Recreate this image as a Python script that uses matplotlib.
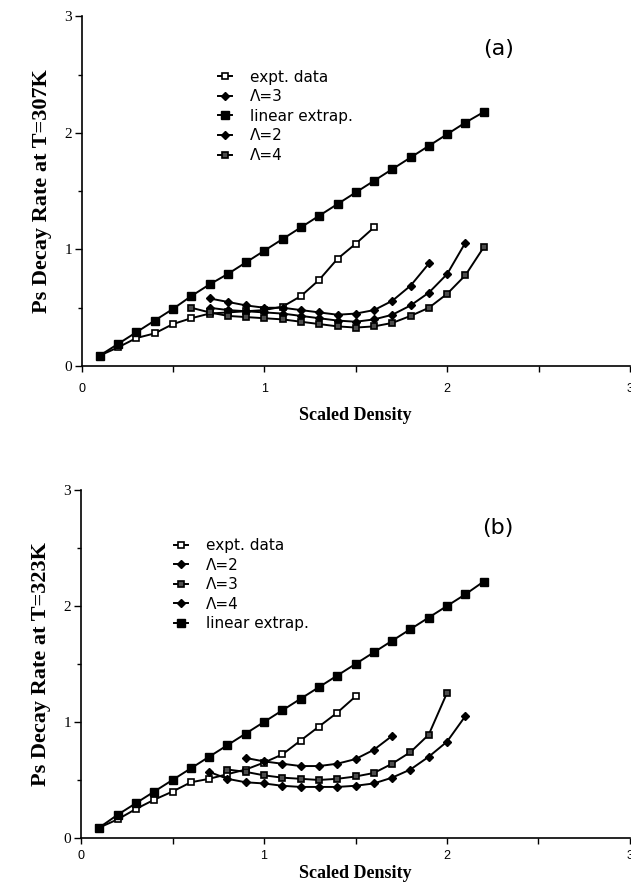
import matplotlib
matplotlib.use('Agg')
import matplotlib.pyplot as plt
from matplotlib.ticker import MultipleLocator

# ---- panel (a): T=307K ----
x_lin_a = [0.1, 0.2, 0.3, 0.4, 0.5, 0.6, 0.7, 0.8, 0.9, 1.0, 1.1,
           1.2, 1.3, 1.4, 1.5, 1.6, 1.7, 1.8, 1.9, 2.0, 2.1, 2.2]
y_lin_a = [0.09, 0.19, 0.29, 0.39, 0.49, 0.60, 0.70, 0.79, 0.89, 0.99, 1.09,
           1.19, 1.29, 1.39, 1.49, 1.59, 1.69, 1.79, 1.89, 1.99, 2.09, 2.18]

x_exp_a = [0.1, 0.2, 0.3, 0.4, 0.5, 0.6, 0.7, 0.8, 0.9, 1.0, 1.1, 1.2, 1.3, 1.4, 1.5, 1.6]
y_exp_a = [0.09, 0.16, 0.24, 0.28, 0.36, 0.41, 0.45, 0.46, 0.47, 0.48, 0.51, 0.60, 0.74, 0.92, 1.05, 1.19]

x_l2_a = [0.7, 0.8, 0.9, 1.0, 1.1, 1.2, 1.3, 1.4, 1.5, 1.6, 1.7, 1.8, 1.9]
y_l2_a = [0.58, 0.55, 0.52, 0.50, 0.50, 0.48, 0.46, 0.44, 0.45, 0.48, 0.56, 0.69, 0.88]

x_l3_a = [0.7, 0.8, 0.9, 1.0, 1.1, 1.2, 1.3, 1.4, 1.5, 1.6, 1.7, 1.8, 1.9, 2.0, 2.1]
y_l3_a = [0.50, 0.48, 0.47, 0.46, 0.45, 0.43, 0.41, 0.39, 0.38, 0.40, 0.44, 0.52, 0.63, 0.79, 1.06]

x_l4_a = [0.6, 0.7, 0.8, 0.9, 1.0, 1.1, 1.2, 1.3, 1.4, 1.5, 1.6, 1.7, 1.8, 1.9, 2.0, 2.1, 2.2]
y_l4_a = [0.50, 0.46, 0.43, 0.42, 0.41, 0.40, 0.38, 0.36, 0.34, 0.33, 0.34, 0.37, 0.43, 0.50, 0.62, 0.78, 1.02]

# ---- panel (b): T=323K ----
x_lin_b = [0.1, 0.2, 0.3, 0.4, 0.5, 0.6, 0.7, 0.8, 0.9, 1.0, 1.1,
           1.2, 1.3, 1.4, 1.5, 1.6, 1.7, 1.8, 1.9, 2.0, 2.1, 2.2]
y_lin_b = [0.09, 0.20, 0.30, 0.40, 0.50, 0.60, 0.70, 0.80, 0.90, 1.00, 1.10,
           1.20, 1.30, 1.40, 1.50, 1.60, 1.70, 1.80, 1.90, 2.00, 2.10, 2.21]

x_exp_b = [0.1, 0.2, 0.3, 0.4, 0.5, 0.6, 0.7, 0.8, 0.9, 1.0, 1.1, 1.2, 1.3, 1.4, 1.5]
y_exp_b = [0.09, 0.16, 0.25, 0.33, 0.40, 0.48, 0.51, 0.55, 0.59, 0.65, 0.72, 0.84, 0.96, 1.08, 1.22]

x_l2_b = [0.9, 1.0, 1.1, 1.2, 1.3, 1.4, 1.5, 1.6, 1.7]
y_l2_b = [0.69, 0.66, 0.64, 0.62, 0.62, 0.64, 0.68, 0.76, 0.88]

x_l3_b = [0.8, 0.9, 1.0, 1.1, 1.2, 1.3, 1.4, 1.5, 1.6, 1.7, 1.8, 1.9, 2.0]
y_l3_b = [0.59, 0.57, 0.54, 0.52, 0.51, 0.50, 0.51, 0.53, 0.56, 0.64, 0.74, 0.89, 1.25]

x_l4_b = [0.7, 0.8, 0.9, 1.0, 1.1, 1.2, 1.3, 1.4, 1.5, 1.6, 1.7, 1.8, 1.9, 2.0, 2.1]
y_l4_b = [0.57, 0.51, 0.48, 0.47, 0.45, 0.44, 0.44, 0.44, 0.45, 0.47, 0.52, 0.59, 0.70, 0.83, 1.05]

SERIF = 'Liberation Serif'
SANS = 'DejaVu Sans'

# marker styles
sty_exp = dict(marker='s', ms=5, mfc='white', mec='black', mew=1.2)
sty_lin = dict(marker='s', ms=5.5, mfc='black', mec='black')
sty_dia = dict(marker='D', ms=4, mfc='black', mec='black')
sty_sq = dict(marker='s', ms=5, mfc='0.3', mec='black', mew=1.2)
line_kw = dict(color='black', lw=1.4)

fig = plt.figure(figsize=(6.31, 8.86), dpi=100)
ax_a = fig.add_axes([0.1292, 0.5869, 0.8693, 0.3945])
ax_b = fig.add_axes([0.1284, 0.0542, 0.8700, 0.3928])


def style_axes(ax, ylab, tickpad, xlabpad):
    ax.set_xlim(0, 3)
    ax.set_ylim(0, 3)
    for s in ['top', 'right']:
        ax.spines[s].set_visible(False)
    ax.spines['left'].set_linewidth(1.2)
    ax.spines['bottom'].set_linewidth(1.2)
    ax.xaxis.set_major_locator(MultipleLocator(1))
    ax.xaxis.set_minor_locator(MultipleLocator(0.5))
    ax.yaxis.set_major_locator(MultipleLocator(1))
    ax.yaxis.set_minor_locator(MultipleLocator(0.5))
    ax.tick_params(axis='x', which='both', direction='out', length=4, width=1, pad=tickpad)
    ax.tick_params(axis='y', which='major', direction='out', length=5, width=1, pad=2)
    ax.tick_params(axis='y', which='minor', direction='out', length=3, width=1)
    for t in ax.get_xticklabels():
        t.set_fontfamily('Liberation Sans')
        t.set_fontsize(9)
    for t in ax.get_yticklabels():
        t.set_fontfamily(SERIF)
        t.set_fontsize(11)
    ax.set_xlabel('Scaled Density', fontfamily=SERIF, fontweight='bold', fontsize=13, labelpad=xlabpad)
    ax.set_ylabel(ylab, fontfamily=SERIF, fontweight='bold', fontsize=16, labelpad=9)


leg_kw = dict(loc='upper left', frameon=False, prop={'family': SANS, 'size': 11},
              handlelength=0.9, handletextpad=1.2, labelspacing=0.3,
              borderpad=0, borderaxespad=0)

# panel (a)
h_exp, = ax_a.plot(x_exp_a, y_exp_a, **line_kw, **sty_exp)
h_l3, = ax_a.plot(x_l3_a, y_l3_a, **line_kw, **sty_dia)
h_lin, = ax_a.plot(x_lin_a, y_lin_a, **line_kw, **sty_lin)
h_l2, = ax_a.plot(x_l2_a, y_l2_a, **line_kw, **sty_dia)
h_l4, = ax_a.plot(x_l4_a, y_l4_a, **line_kw, **sty_sq)
style_axes(ax_a, 'Ps Decay Rate at T=307K', tickpad=8, xlabpad=9)
ax_a.legend([h_exp, h_l3, h_lin, h_l2, h_l4],
            ['expt. data', 'Λ=3', 'linear extrap.', 'Λ=2', 'Λ=4'],
            bbox_to_anchor=(0.249, 0.848), **leg_kw)
ax_a.text(2.28, 2.72, '(a)', fontfamily=SANS, fontsize=16, ha='center', va='center')

# panel (b)
g_exp, = ax_b.plot(x_exp_b, y_exp_b, **line_kw, **sty_exp)
g_l2, = ax_b.plot(x_l2_b, y_l2_b, **line_kw, **sty_dia)
g_l3, = ax_b.plot(x_l3_b, y_l3_b, **line_kw, **sty_sq)
g_l4, = ax_b.plot(x_l4_b, y_l4_b, **line_kw, **sty_dia)
g_lin, = ax_b.plot(x_lin_b, y_lin_b, **line_kw, **sty_lin)
style_axes(ax_b, 'Ps Decay Rate at T=323K', tickpad=5, xlabpad=2)
ax_b.legend([g_exp, g_l2, g_l3, g_l4, g_lin],
            ['expt. data', 'Λ=2', 'Λ=3', 'Λ=4', 'linear extrap.'],
            bbox_to_anchor=(0.169, 0.862), **leg_kw)
ax_b.text(2.28, 2.67, '(b)', fontfamily=SANS, fontsize=16, ha='center', va='center')

fig.savefig('out.png', dpi=100)
